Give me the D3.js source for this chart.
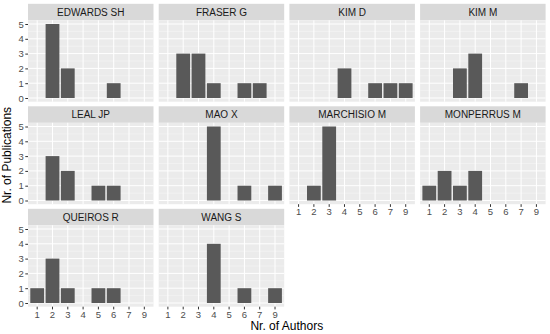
<!DOCTYPE html>
<html>
<head>
<meta charset="utf-8">
<script src="https://cdn.jsdelivr.net/npm/d3@7.9.0/dist/d3.min.js"></script>
<style>
  body { margin: 0; background: #fff; }
  svg { display: block; font-family: "Liberation Sans", Arial, sans-serif; }
</style>
</head>
<body>
<div id="chart"></div>
<script>
// ---- data ----
const authors = ["1", "2", "3", "4", "5", "6", "7", "9"];
const facets = ["EDWARDS SH", "FRASER G", "KIM D", "KIM M", "LEAL JP",
                "MAO X", "MARCHISIO M", "MONPERRUS M", "QUEIROS R", "WANG S"];
// publications per number of authors (same order as authors)
const pubs = [
  [0, 5, 2, 0, 0, 1, 0, 0],
  [0, 3, 3, 1, 0, 1, 1, 0],
  [0, 0, 0, 2, 0, 1, 1, 1],
  [0, 0, 2, 3, 0, 0, 1, 0],
  [0, 3, 2, 0, 1, 1, 0, 0],
  [0, 0, 0, 5, 0, 1, 0, 1],
  [0, 1, 5, 0, 0, 0, 0, 0],
  [1, 2, 1, 2, 0, 0, 0, 0],
  [1, 3, 1, 0, 1, 1, 0, 0],
  [0, 0, 0, 4, 0, 1, 0, 1]
];
const yTicks = [0, 1, 2, 3, 4, 5];

// ---- layout ----
const width = 550, height = 334;
const ncol = 4;
const left = 28, pw = 125.5, gapX = 5.2;
const top0 = 20.3, ph = 81.4, pitchY = 102.5, stripH = 16.5;

const svg = d3.select("#chart").append("svg")
  .attr("width", width).attr("height", height);

const x = d3.scaleBand().domain(authors).range([0, pw])
  .paddingInner(0.1).paddingOuter(0.15);
const y = d3.scaleLinear().domain([-0.25, 5.25]).range([ph, 0]);
const minor = d3.range(0.5, 5, 1);

const nRows = Math.ceil(facets.length / ncol);

facets.forEach((name, i) => {
  const col = i % ncol, row = Math.floor(i / ncol);
  const px = left + col * (pw + gapX);
  const py = top0 + row * pitchY;
  const g = svg.append("g").attr("transform", `translate(${px},${py})`);

  // strip
  g.append("rect").attr("x", 0).attr("y", -stripH).attr("width", pw).attr("height", stripH)
    .attr("fill", "#d9d9d9");
  g.append("text").attr("x", pw / 2).attr("y", -stripH / 2).attr("dy", "0.36em")
    .attr("text-anchor", "middle").attr("font-size", "10px").attr("fill", "#1a1a1a")
    .text(name);

  // panel
  g.append("rect").attr("width", pw).attr("height", ph).attr("fill", "#ebebeb");
  g.selectAll("line.minor").data(minor).join("line").attr("class", "minor")
    .attr("x1", 0).attr("x2", pw).attr("y1", d => y(d)).attr("y2", d => y(d))
    .attr("stroke", "#f7f7f7").attr("stroke-width", 0.5);
  g.selectAll("line.hmaj").data(yTicks).join("line").attr("class", "hmaj")
    .attr("x1", 0).attr("x2", pw).attr("y1", d => y(d)).attr("y2", d => y(d))
    .attr("stroke", "#fff").attr("stroke-width", 1);
  g.selectAll("line.vmaj").data(authors).join("line").attr("class", "vmaj")
    .attr("x1", d => x(d) + x.bandwidth() / 2).attr("x2", d => x(d) + x.bandwidth() / 2)
    .attr("y1", 0).attr("y2", ph)
    .attr("stroke", "#fff").attr("stroke-width", 1);

  // bars
  const vals = authors.map((a, k) => ({ a, v: pubs[i][k] })).filter(d => d.v > 0);
  g.selectAll("rect.bar").data(vals).join("rect").attr("class", "bar")
    .attr("x", d => x(d.a)).attr("width", x.bandwidth())
    .attr("y", d => y(d.v)).attr("height", d => y(0) - y(d.v))
    .attr("fill", "#595959");

  // y axis on first column
  if (col === 0) {
    const ay = g.append("g").call(d3.axisLeft(y).tickValues(yTicks).tickFormat(d3.format("d"))
      .tickSize(2.7).tickPadding(1.5));
    ay.select(".domain").remove();
    ay.selectAll(".tick line").attr("stroke", "#333");
    ay.selectAll("text").attr("font-size", "9.5px").attr("fill", "#4d4d4d")
      .attr("font-family", "Liberation Sans, Arial, sans-serif");
  }
  // x axis on the lowest panel of each column
  const below = i + ncol;
  if (below >= facets.length) {
    const ax = g.append("g").attr("transform", `translate(0,${ph})`)
      .call(d3.axisBottom(x).tickSize(2.7).tickPadding(1.5));
    ax.select(".domain").remove();
    ax.selectAll(".tick line").attr("stroke", "#333");
    ax.selectAll("text").attr("font-size", "9.5px").attr("fill", "#4d4d4d")
      .attr("font-family", "Liberation Sans, Arial, sans-serif");
  }
});

// axis titles
const plotRight = left + ncol * pw + (ncol - 1) * gapX;
svg.append("text").attr("x", (left + plotRight) / 2).attr("y", 330)
  .attr("text-anchor", "middle").attr("font-size", "12px").attr("fill", "#000")
  .text("Nr. of Authors");
const plotTop = top0 - stripH, plotBottom = top0 + (nRows - 1) * pitchY + ph;
svg.append("text")
  .attr("transform", `translate(11,${(plotTop + plotBottom) / 2}) rotate(-90)`)
  .attr("text-anchor", "middle").attr("font-size", "12px").attr("fill", "#000")
  .text("Nr. of Publications");
</script>
</body>
</html>
